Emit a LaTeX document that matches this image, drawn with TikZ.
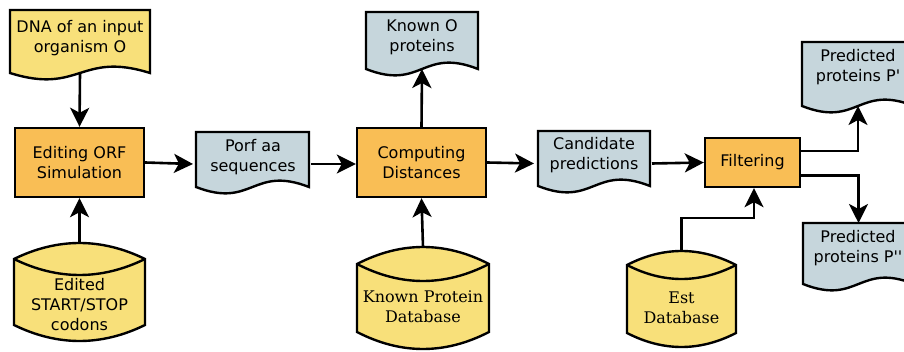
\documentclass[tikz,border=0pt]{standalone}
\usepackage{fontspec}
\setmainfont{DejaVu Sans}
\newfontfamily\serifdv{DejaVu Serif}
\usetikzlibrary{arrows.meta,calc}
\definecolor{cyel}{HTML}{F8E07A}
\definecolor{corg}{HTML}{F9BE55}
\definecolor{cblu}{HTML}{C6D6DC}
\newcommand\fs{\fontsize{16}{20}\selectfont}
\newcommand\sq{\XeTeXglyph\XeTeXcharglyph"0027\relax}
\tikzset{
  procbox/.style={draw, line width=2.4pt, fill=corg, inner sep=0pt, align=center, font=\fs},
  shapeframe/.style={inner sep=0pt, outer sep=0pt},
  shapeline/.style={draw, line width=2.4pt, line join=miter},
  txt/.style={align=center, inner sep=0pt, font=\fs},
  seriftxt/.style={align=center, inner sep=0pt, font=\fs\serifdv},
  conn/.style={line width=2.6pt, -{Stealth[length=19pt,width=19pt,inset=5pt]}},
}
% document shape: name, fill, x0, x1, top, corner
\newcommand\docshape[6]{%
  \node[shapeframe, minimum width={#4-#3}, minimum height={#6-#5}] (#1) at ({(#3+#4)/2},{(#5+#6)/2}) {};
  \draw[shapeline, fill=#2] (#1.north west) -- (#1.north east) -- (#1.south east)
    .. controls +({-(#4-#3)/2},-22) and +({(#4-#3)/2},22) .. (#1.south west) -- cycle;
}
% cylinder: name, fill, x0, x1, top peak, bottom peak, arc height
\newcommand\cylshape[7]{%
  \node[shapeframe, minimum width={#4-#3}, minimum height={#6-#5}] (#1) at ({(#3+#4)/2},{(#5+#6)/2}) {};
  \draw[shapeline, fill=#2] ([yshift=-#7pt]#1.north west)
    .. controls +({(#4-#3)/3},{-4*#7/3}) and +({-(#4-#3)/3},{-4*#7/3}) .. ([yshift=-#7pt]#1.north east)
    -- ([yshift=#7pt]#1.south east)
    .. controls +({-(#4-#3)/3},{4*#7/3}) and +({(#4-#3)/3},{4*#7/3}) .. ([yshift=#7pt]#1.south west)
    -- cycle;
  \draw[shapeline] ([yshift=-#7pt]#1.north west)
    .. controls +({(#4-#3)/3},{4*#7/3}) and +({-(#4-#3)/3},{4*#7/3}) .. ([yshift=-#7pt]#1.north east);
}
\begin{document}
\begin{tikzpicture}[x=1pt, y=-1pt]
\useasboundingbox (0,0) rectangle (904,352);
\fill[white] (0,0) rectangle (904,352);

% process boxes
\node[procbox, minimum width=129pt, minimum height=69pt] (editing) at (79.5,162.5) {Editing ORF\\Simulation};
\node[procbox, minimum width=129pt, minimum height=69pt] (computing) at (421.5,162.5) {Computing\\Distances};
\node[procbox, minimum width=95pt, minimum height=49pt] (filter) at (752.5,162.5) {Filtering};

% documents
\docshape{dna}{cyel}{10}{150}{10}{73}
\node[txt] (dnat) at (80,38) {DNA of an input\\organism O};
\docshape{porf}{cblu}{196}{309}{132}{187}
\node[txt] (porft) at (253,157) {Porf aa\\sequences};
\docshape{knowno}{cblu}{366}{478}{12}{69}
\node[txt] (knownot) at (422,37) {Known O\\proteins};
\docshape{cand}{cblu}{538}{650}{131}{186}
\node[txt] (candt) at (594,155) {Candidate\\predictions};
\docshape{pp1}{cblu}{802}{914}{42}{106}
\node[txt] (pp1t) at (858,67) {Predicted\\proteins P\sq};
\docshape{pp2}{cblu}{803}{914}{223}{284}
\node[txt] (pp2t) at (858,248) {Predicted\\proteins P\sq\sq};

% cylinders
\cylshape{edited}{cyel}{14}{145}{243}{341}{16}
\node[txt] (editedt) at (79.5,305) {Edited\\START/STOP\\codons};
\cylshape{kpdb}{cyel}{357}{489}{247}{349}{17}
\node[seriftxt] (kpdbt) at (423,307) {Known Protein\\Database};
\cylshape{est}{cyel}{627}{736}{251}{347}{14}
\node[seriftxt] (estt) at (681.5,308) {Est\\Database};

% connectors
\draw[conn] (dna.south) -- (editing.north);
\draw[conn] (edited.north) -- (editing.south);
\draw[conn] (editing.east) -- ($(editing.east -| porf.west)+(-3,1.5)$);
\draw[conn] ($(computing.west -| porf.east)+(2,1.5)$) -- ($(computing.west)+(0,1.5)$);
\draw[conn] (computing.north) -- (knowno.south);
\draw[conn] (kpdb.north) -- (computing.south);
\draw[conn] (computing.east) -- ($(computing.east -| cand.west)+(-4,1)$);
\draw[conn] ($(filter.west -| cand.east)+(2,1)$) -- (filter.west);
\draw[conn] (est.north) -- ++(0,-33) -| ([xshift=1.5pt]filter.south);
\draw[conn] ([yshift=11.5pt]filter.east) -| (pp1.south);
\draw[conn] ([yshift=-13pt]filter.east) -| (pp2.north);
\end{tikzpicture}
\end{document}
